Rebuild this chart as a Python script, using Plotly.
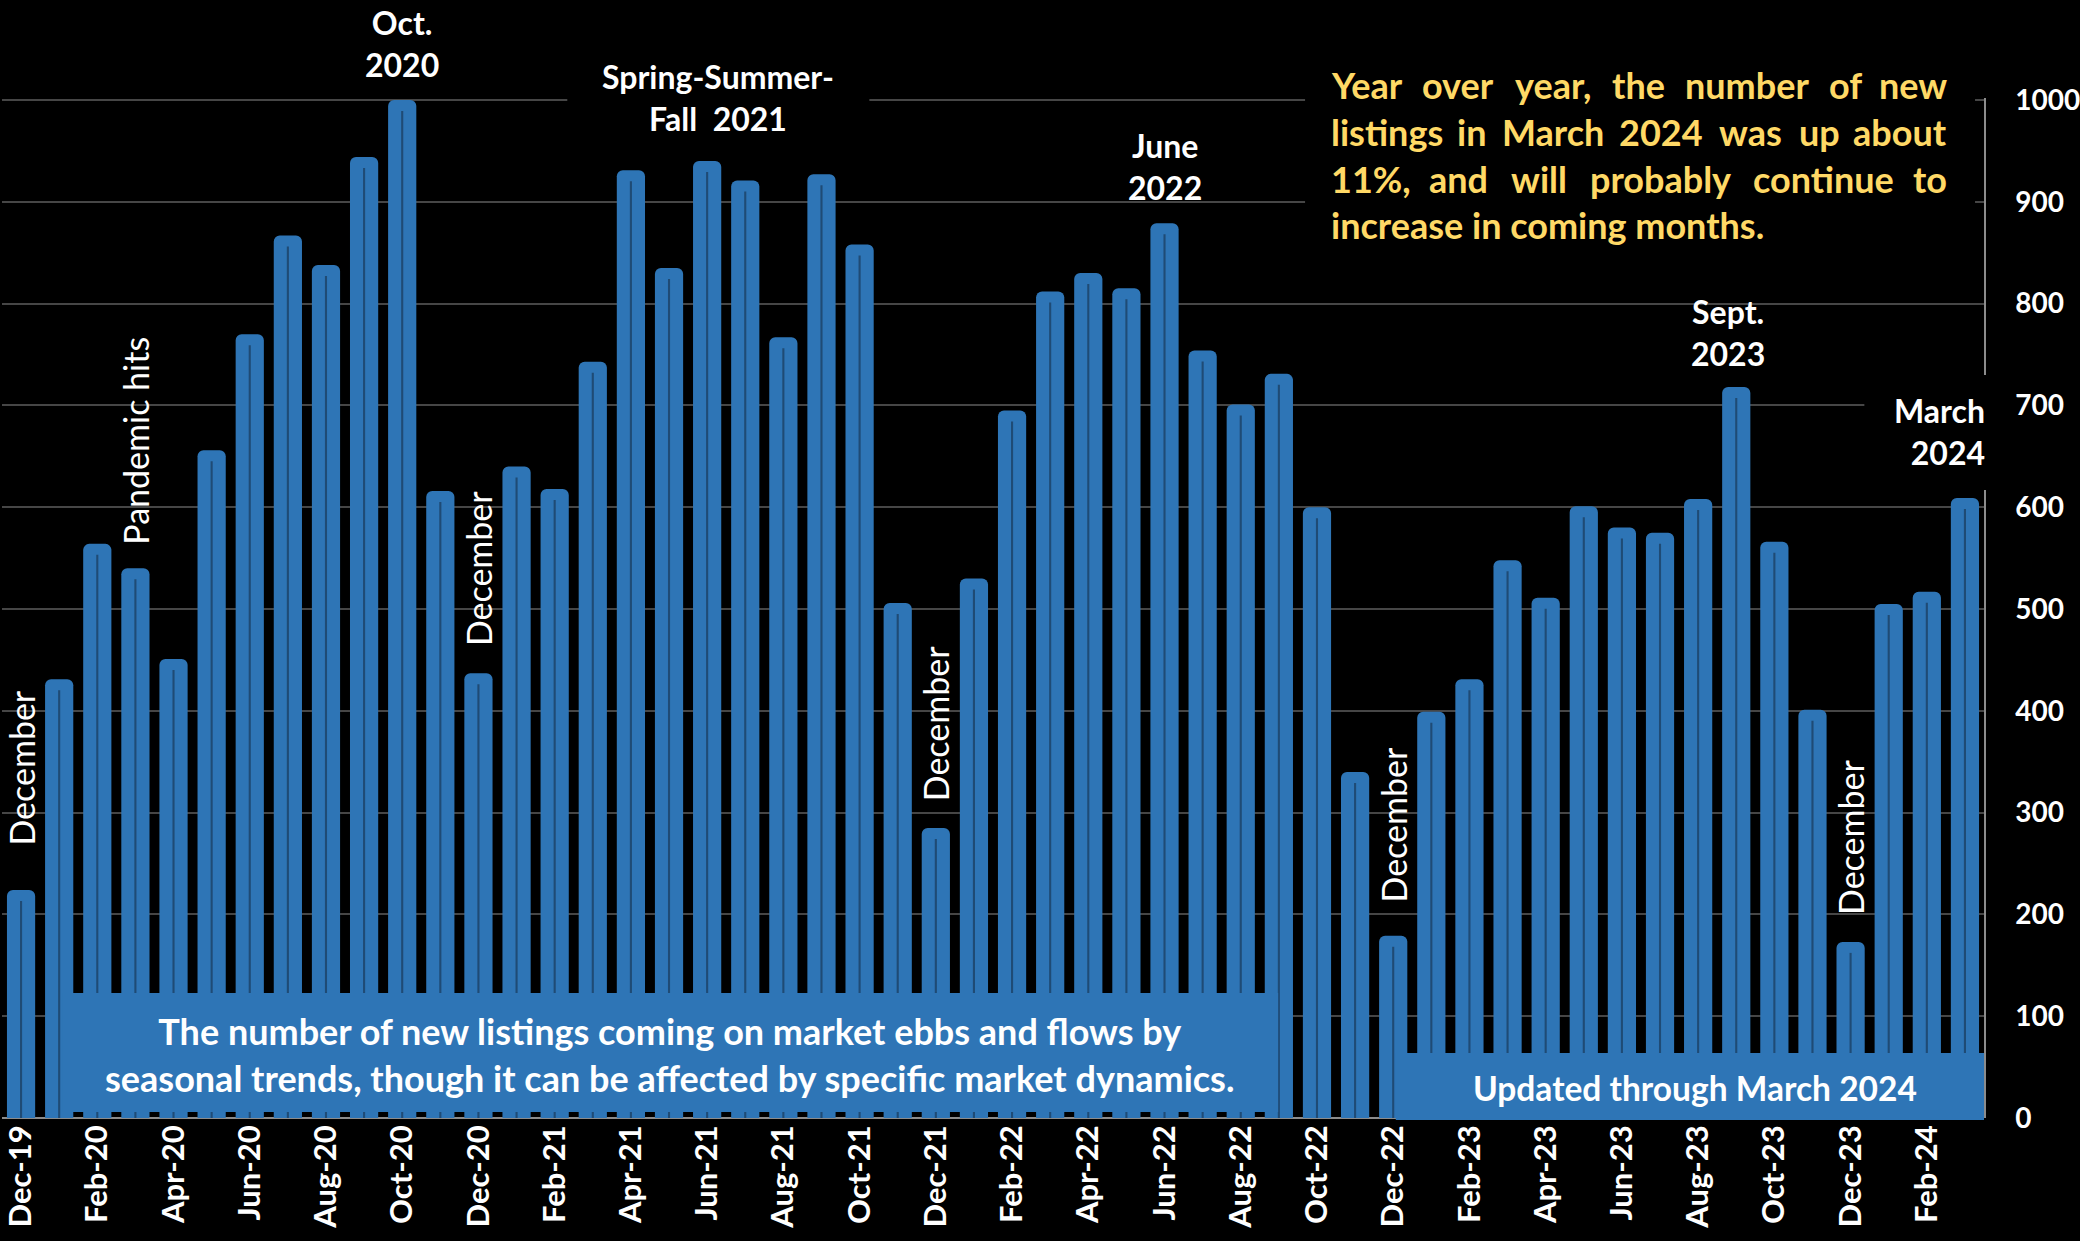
import plotly.graph_objects as go

# ---------------------------------------------------------------- data
months = [
    "Dec-19",
    "Jan-20", "Feb-20", "Mar-20", "Apr-20", "May-20", "Jun-20",
    "Jul-20", "Aug-20", "Sep-20", "Oct-20", "Nov-20", "Dec-20",
    "Jan-21", "Feb-21", "Mar-21", "Apr-21", "May-21", "Jun-21",
    "Jul-21", "Aug-21", "Sep-21", "Oct-21", "Nov-21", "Dec-21",
    "Jan-22", "Feb-22", "Mar-22", "Apr-22", "May-22", "Jun-22",
    "Jul-22", "Aug-22", "Sep-22", "Oct-22", "Nov-22", "Dec-22",
    "Jan-23", "Feb-23", "Mar-23", "Apr-23", "May-23", "Jun-23",
    "Jul-23", "Aug-23", "Sep-23", "Oct-23", "Nov-23", "Dec-23",
    "Jan-24", "Feb-24", "Mar-24",
]

new_listings = [
    224,
    431, 564, 540, 451, 656, 770, 867, 838, 944, 1000, 616, 437,
    640, 618, 743, 931, 835, 940, 921, 767, 927, 858, 506, 285,
    530, 695, 812, 830, 815, 879, 754, 701, 731, 600, 340, 179,
    399, 431, 548, 511, 601, 580, 575, 608, 718, 566, 401, 173,
    505, 517, 609,
]

tick_labels = months[::2]
y_ticks = list(range(0, 1001, 100))

# rotated notes sitting on top of a bar: (month, text, gap above bar in px)
rotated_notes = [
    ("Dec-19", "December", 42),
    ("Mar-20", "Pandemic hits", 22),
    ("Dec-20", "December", 25),
    ("Dec-21", "December", 25),
    ("Dec-22", "December", 31),
    ("Dec-23", "December", 25),
]

# horizontal peak notes sitting on top of a bar: (month, text, gap, x shift)
peak_notes = [
    ("Jun-22", "June<br>2022", 14, 0),
    ("Sep-23", "Sept.<br>2023", 12, -8),
]

yoy_lines = [
    "Year over year, the number of new",
    "listings in March 2024 was up about",
    "11%, and will probably continue to",
    "increase in coming months.",
]

note_left = ("The number of new listings coming on market ebbs and flows by<br>"
             "seasonal trends, though it can be affected by specific market dynamics.")
note_right = "Updated through March 2024"

# ---------------------------------------------------------------- styling
BAR_BLUE = "#2E75B6"
CORE_LINE = "#1F4B75"
GRID = "#464646"
AXIS = "#8C8C8C"
GOLD = "#FFD966"
FONT = "Lato"

Y_MAX = 1002          # a little headroom so the 1000 gridline is drawn

W, H = 2080, 1241
M_L, M_R, M_T, M_B = 0, 92, 98, 123
PLOT_W = W - M_L - M_R
PLOT_H = H - M_T - M_B


def px_x(px):
    return (px - M_L) / PLOT_W


def px_y(py):
    return (H - M_B - py) / PLOT_H


PX_PER_UNIT = PLOT_H / Y_MAX

fig = go.Figure()

# main bars
fig.add_trace(go.Bar(
    x=months, y=new_listings,
    width=0.74,
    marker=dict(color=BAR_BLUE, line=dict(width=0), cornerradius=6),
    hoverinfo="x+y", name="New listings",
))

# thin darker spine running down the middle of every bar
fig.add_trace(go.Bar(
    x=months, y=[v - 11 / PX_PER_UNIT for v in new_listings],
    width=0.055,
    marker=dict(color=CORE_LINE, line=dict(width=0)),
    hoverinfo="skip", name="",
))

shapes = []


def rect(x0, y0, x1, y1, color):
    shapes.append(dict(
        type="rect", xref="paper", yref="paper", layer="above",
        x0=px_x(x0), x1=px_x(x1), y0=px_y(y1), y1=px_y(y0),
        fillcolor=color, line=dict(width=0),
    ))


# black backdrops behind free-floating text
rect(567, 52, 870, 150, "black")       # Spring-Summer-Fall
rect(1307, 55, 1979, 250, "black")     # year-over-year note
rect(1868, 375, 2002, 490, "black")    # March 2024
# blue caption panels
rect(61, 993, 1280, 1112, BAR_BLUE)
rect(1398, 1053, 1988, 1120, BAR_BLUE)

annotations = []
BOLD_WHITE = dict(family=FONT, size=32, color="white", weight="bold")

for month, text, gap in rotated_notes:
    annotations.append(dict(
        x=month, y=new_listings[months.index(month)], xref="x", yref="y",
        text=text, textangle=-90, showarrow=False,
        xanchor="center", yanchor="bottom", yshift=gap,
        font=dict(family=FONT, size=34, color="white"),
    ))

for month, text, gap, dx in peak_notes:
    annotations.append(dict(
        x=month, y=new_listings[months.index(month)], xref="x", yref="y",
        text=text, showarrow=False, xanchor="center", yanchor="bottom",
        yshift=gap, xshift=dx, align="center", font=BOLD_WHITE,
    ))

# the October 2020 peak label sits right at the top edge of the figure
annotations.append(dict(
    x="Oct-20", y=px_y(44), xref="x", yref="paper",
    text="Oct.<br>2020", showarrow=False,
    xanchor="center", yanchor="middle", align="center", font=BOLD_WHITE,
))

annotations.append(dict(
    x=px_x(718), y=px_y(97), xref="paper", yref="paper",
    text="Spring-Summer-<br>Fall\u00a0 2021", showarrow=False,
    xanchor="center", yanchor="middle", align="center", font=BOLD_WHITE,
))

annotations.append(dict(
    x=px_x(1991), y=px_y(432), xref="paper", yref="paper",
    text="March<br>2024", showarrow=False,
    xanchor="right", yanchor="middle", align="right", font=BOLD_WHITE,
))

# year-over-year note, justified word by word
CHAR_EM = {
    "a": .52, "b": .57, "c": .46, "d": .57, "e": .53, "f": .34, "g": .51,
    "h": .57, "i": .26, "j": .26, "k": .53, "l": .26, "m": .85, "n": .57,
    "o": .57, "p": .57, "q": .57, "r": .38, "s": .44, "t": .36, "u": .57,
    "v": .52, "w": .79, "x": .52, "y": .52, "z": .46, "Y": .62, "M": .85,
    ",": .22, ".": .22, "%": .78, " ": .22,
}
for d in "0123456789":
    CHAR_EM[d] = .58


def text_px(s, size):
    return sum(CHAR_EM.get(ch, .55) for ch in s) * size


YOY_SIZE = 36
YOY_LEFT, YOY_RIGHT = 1331, 1953
yoy_centres = [85, 132, 179, 225]
for i, (line, yc) in enumerate(zip(yoy_lines, yoy_centres)):
    font = dict(family=FONT, size=YOY_SIZE, color=GOLD, weight="bold")
    if i == len(yoy_lines) - 1:
        annotations.append(dict(
            x=px_x(YOY_LEFT), y=px_y(yc), xref="paper", yref="paper",
            text=line, showarrow=False, xanchor="left", yanchor="middle",
            font=font,
        ))
        continue
    words = line.split(" ")
    widths = [text_px(w, YOY_SIZE) for w in words]
    gap = (YOY_RIGHT - YOY_LEFT - sum(widths)) / (len(words) - 1)
    xpos = YOY_LEFT
    for j, (word, wd) in enumerate(zip(words, widths)):
        if j == 0:
            xa, xx = "left", YOY_LEFT
        elif j == len(words) - 1:
            xa, xx = "right", YOY_RIGHT
        else:
            xa, xx = "center", xpos + wd / 2
        annotations.append(dict(
            x=px_x(xx), y=px_y(yc), xref="paper", yref="paper",
            text=word, showarrow=False, xanchor=xa, yanchor="middle",
            font=font,
        ))
        xpos += wd + gap

annotations.append(dict(
    x=px_x(670), y=px_y(1054), xref="paper", yref="paper",
    text=note_left, showarrow=False, xanchor="center", yanchor="middle",
    align="center",
    font=dict(family=FONT, size=36, color="white", weight="bold"),
))
annotations.append(dict(
    x=px_x(1698), y=px_y(1088), xref="paper", yref="paper",
    text=note_right, showarrow=False, xanchor="center", yanchor="middle",
    font=dict(family=FONT, size=33.5, color="white", weight="bold"),
))

fig.update_layout(
    width=W, height=H,
    margin=dict(l=M_L, r=M_R, t=M_T, b=M_B, pad=0),
    paper_bgcolor="black", plot_bgcolor="black",
    barmode="overlay", bargap=0.26,
    showlegend=False,
    shapes=shapes, annotations=annotations,
    font=dict(family=FONT, color="white"),
    xaxis=dict(
        type="category", categoryorder="array", categoryarray=months,
        range=[-0.5, len(months) - 0.5],
        tickmode="array", tickvals=tick_labels, ticktext=tick_labels,
        tickangle=-90, ticks="", showgrid=False, showline=False,
        zeroline=False,
        tickfont=dict(family=FONT, size=31, color="white", weight="bold"),
    ),
    yaxis=dict(
        side="right", range=[0, Y_MAX],
        tickmode="array", tickvals=y_ticks,
        showgrid=True, gridcolor=GRID, gridwidth=1.5,
        zeroline=True, zerolinecolor=AXIS, zerolinewidth=2,
        showline=True, linecolor=AXIS, linewidth=1.5,
        ticks="", ticklabelstandoff=24,
        tickfont=dict(family=FONT, size=28, color="white", weight="bold"),
    ),
)

fig.write_html("out.html")
